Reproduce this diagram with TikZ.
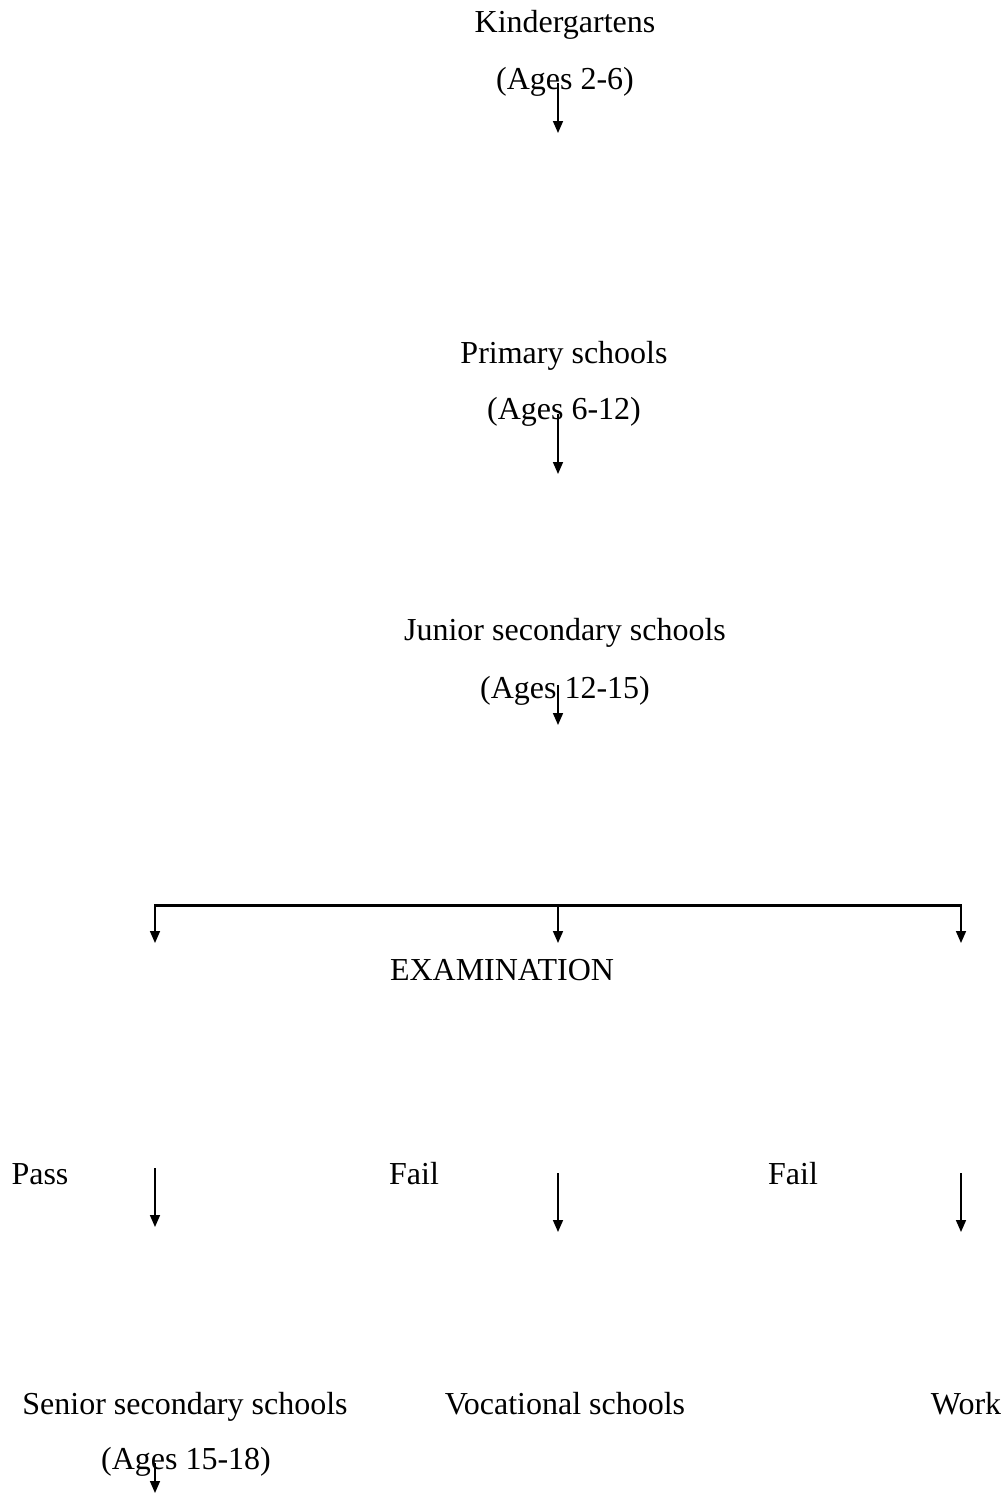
\documentclass[tikz,border=0pt]{standalone}
\usepackage{fontspec}
\setmainfont{Liberation Serif}
\usetikzlibrary{arrows.meta}
\begin{document}
\begin{tikzpicture}[x=1pt,y=-1pt,
  lbl/.style={anchor=base,inner sep=0pt,font=\fontsize{32}{38}\selectfont},
  arr/.style={line width=1.6pt,-{Triangle[length=12pt,width=10pt]}},
  bar/.style={line width=3pt}]
\useasboundingbox (0,0) rectangle (1005,1494);
% texts
\node[lbl] (k) at (565,32) {Kindergartens};
\node[lbl] (kAge) at (565,89) {(Ages 2-6)};
\node[lbl] (p) at (564,363) {Primary schools};
\node[lbl] (pAge) at (564,419) {(Ages 6-12)};
\node[lbl] (j) at (565,640) {Junior secondary schools};
\node[lbl] (jAge) at (565,698) {(Ages 12-15)};
\node[lbl] (exam) at (502,980) {EXAMINATION};
\node[lbl] (pass) at (40,1184) {Pass};
\node[lbl] (fail1) at (414,1184) {Fail};
\node[lbl] (fail2) at (793,1184) {Fail};
\node[lbl] (senior) at (185,1414) {Senior secondary schools};
\node[lbl] (voc) at (565,1414) {Vocational schools};
\node[lbl] (work) at (966,1414) {Work};
\node[lbl] (sAge) at (186,1469) {(Ages 15-18)};
% coordinates
\coordinate (a1s) at (558,83);  \coordinate (a1e) at (558,133);
\coordinate (a2s) at (558,414); \coordinate (a2e) at (558,474);
\coordinate (a3s) at (558,685); \coordinate (a3e) at (558,725);
\coordinate (bl) at (155,905); \coordinate (bm) at (558,905); \coordinate (br) at (961,905);
\coordinate (ble) at (155,943); \coordinate (bme) at (558,943); \coordinate (bre) at (961,943);
\coordinate (c1s) at (155,1168); \coordinate (c1e) at (155,1227);
\coordinate (c2s) at (558,1173); \coordinate (c2e) at (558,1232);
\coordinate (c3s) at (961,1173); \coordinate (c3e) at (961,1232);
\coordinate (d1s) at (155,1463); \coordinate (d1e) at (155,1493);
% connectors
\draw[arr] (a1s) -- (a1e);
\draw[arr] (a2s) -- (a2e);
\draw[arr] (a3s) -- (a3e);
\draw[bar] ([xshift=-0.8pt]bl) -- ([xshift=0.8pt]br);
\draw[arr] (bl) -- (ble);
\draw[arr] (bm) -- (bme);
\draw[arr] (br) -- (bre);
\draw[arr] (c1s) -- (c1e);
\draw[arr] (c2s) -- (c2e);
\draw[arr] (c3s) -- (c3e);
\draw[arr] (d1s) -- (d1e);
\end{tikzpicture}
\end{document}
